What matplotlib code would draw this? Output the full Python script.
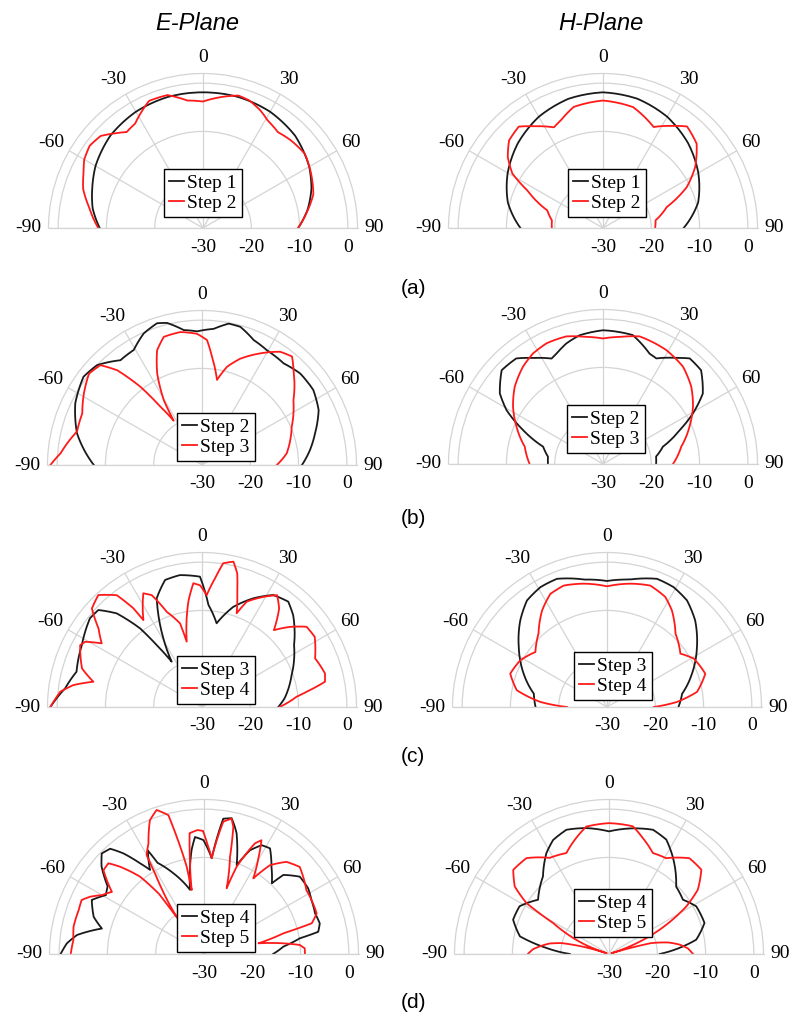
import numpy as np
import matplotlib.pyplot as plt
from matplotlib.transforms import offset_copy

plt.rcParams['font.family'] = ['Liberation Serif', 'DejaVu Serif']

# angles in degrees, gains in dB
theta_ticks = [-90, -60, -30, 0, 30, 60, 90]
r_ticks = [-30, -20, -10, 0]

# (a) E-plane
ea_s1_th = [-90, -80, -70, -60, -45, -30, -15, 0, 15, 30, 45, 60, 70, 80, 90]
ea_s1_db = [-8.6, -6.8, -5.6, -4.3, -2.9, -2.2, -1.9, -1.9, -1.9, -2.2, -3.0, -4.6, -6.1, -8.0, -10.3]
ea_s2_th = [-90, -80, -72, -65, -60, -54, -48, -43, -38.5, -33, -28, -23, -15, -7, 0, 8, 15, 20,
            26, 31, 38, 45, 54, 63, 73, 82, 90]
ea_s2_db = [-8.3, -6.1, -3.9, -2.7, -1.6, -1.0, -1.5, -3.2, -4.6, -4.2, -2.8, -1.4, -1.5, -3.4, -3.8,
            -2.6, -1.6, -1.9, -2.9, -4.0, -4.8, -4.3, -3.9, -4.9, -6.1, -8.4, -10.3]

# (a) H-plane
ha_s1_th = [-90, -75, -60, -45, -30, -15, 0, 15, 30, 45, 60, 75, 90]
ha_s1_db = [-12.9, -9.6, -7.2, -5.1, -3.4, -2.3, -1.9, -2.3, -3.4, -5.1, -7.2, -9.6, -13.3]
ha_s2_th = [-90, -81.5, -72.5, -63.6, -59, -53.3, -47, -39.7, -34.3, -26, -21.6, -13.6, 0, 14, 26.6,
            34, 39.6, 48, 56.5, 64, 71.8, 81.7, 90]
ha_s2_db = [-19.4, -19.3, -17.9, -12.5, -8.1, -5.4, -3.4, -2.7, -4.5, -6.8, -6.1, -4.2, -3.6, -4.2,
            -6.6, -4.5, -2.7, -3.9, -7.1, -10.7, -16.1, -19.0, -19.2]

# (b) E-plane
eb_s2_th = [-90, -75.8, -64, -53.3, -46.4, -37.9, -30.7, -23.9, -17.6, -13.8, -7.7, -2.1, 4.9, 10.7,
            15.5, 22.5, 29.5, 38.8, 47, 56, 64.8, 74.4, 82, 90]
eb_s2_db = [-7.6, -3.3, -0.8, 0.6, 0.0, -2.5, -2.3, -0.2, 0.8, 0.3, -1.8, -2.3, -1.7, -0.2, -0.3,
            -2.0, -2.7, -3.0, -2.2, -2.2, -3.3, -5.7, -7.4, -9.3]
eb_s3_th = [-90, -85.3, -75, -66.7, -58.8, -51, -45.5, -41.8, -38.2, -35.5, -32.6, -30.5, -26.1,
            -21.4, -16.6, -9.2, -2.2, 2.3, 5.3, 10, 14.3, 19.8, 27.6, 34.6, 39.7, 44, 54.7, 66.9,
            82.2, 90]
eb_s3_db = [1.4, -0.6, -3.2, -3.0, -1.4, 0.1, -0.5, -3.7, -9.4, -15.2, -19.1, -14.4, -8.9, -4.5,
            -2.3, -2.1, -2.8, -4.1, -7.5, -12.1, -9.0, -6.6, -3.9, -1.5, -0.8, -2.7, -6.8, -9.8,
            -12.3, -14.5]

# (b) H-plane
hb_s2_th = [-90, -82.4, -73.9, -67, -60.8, -55.6, -47.2, -39.4, -33.4, -26, -22.9, -16.9, -10.3, 0,
            13, 22.9, 26.8, 34.6, 39.4, 46.3, 54.8, 60.6, 66.1, 73.9, 82, 90]
hb_s2_db = [-18.6, -18.5, -17.1, -12.0, -7.1, -4.1, -1.4, -1.7, -3.7, -5.7, -5.2, -3.9, -2.9, -2.3,
            -2.6, -5.2, -5.5, -3.3, -1.7, -1.9, -4.7, -8.6, -12.6, -17.1, -18.9, -19.0]
hb_s3_th = [-90, -77.5, -66.7, -57.5, -48.8, -39.4, -32.3, -25, -16, -8, 0, 8, 16, 29, 39.4, 48.8,
            57.5, 66.7, 77.5, 90]
hb_s3_db = [-14.8, -13.4, -10.5, -7.9, -5.7, -3.9, -2.9, -2.4, -2.5, -3.4, -4.0, -3.4, -2.5, -3.0,
            -3.9, -5.7, -7.9, -10.5, -13.4, -15.5]

# (c) E-plane
ec_s3_th = [-90, -82.2, -74.3, -62.7, -51.6, -46.9, -42.3, -38.2, -36.2, -33.8, -29.4, -22.6, -16.2,
            -9.5, -0.9, 3.6, 9.9, 17.3, 25.3, 32.5, 39.3, 44.8, 56, 70.4, 84, 90]
ec_s3_db = [1.4, -1.4, -3.0, -2.0, -0.4, -0.6, -3.8, -9.3, -14.1, -18.7, -13.7, -5.6, -2.6, -2.3,
            -3.0, -8.8, -12.4, -8.3, -5.1, -2.5, -1.8, -3.2, -7.0, -10.3, -12.8, -14.2]
ec_s4_th = [-90, -83.8, -80.3, -76.9, -72.2, -63.1, -60.8, -57.6, -52.8, -48.2, -42.8, -37.3, -34.8,
            -34, -27.3, -24.2, -20.3, -14.7, -13.2, -7.4, -4, -0.9, 2.4, 5.8, 8.4, 12.2, 14.8, 17,
            20.3, 23, 29.1, 33.9, 38.1, 43.1, 47.6, 52.5, 58.1, 66.7, 74.7, 78.4, 81.7, 83.8, 90]
ec_s4_db = [1.4, -0.5, -3.0, -6.9, -3.9, -1.7, -2.3, -5.4, -3.1, 0.6, 1.6, -0.9, -5.1, -8.3, -3.5,
            -4.6, -9.0, -12.1, -16.1, -8.0, -4.3, -4.8, -6.8, -3.2, 0.1, 0.8, -1.4, -5.0, -9.3,
            -6.3, -3.9, -2.1, -4.1, -8.2, -5.4, -2.7, -2.5, -4.5, -3.6, -4.0, -8.1, -10.3, -13.9]

# (c) H-plane
hc_s3_th = [-90, -79.7, -68.2, -55.8, -45, -36.9, -29, -21.3, -10, 0, 10, 21.3, 29, 36.9, 45.5,
            56.3, 68.6, 80, 90]
hc_s3_db = [-15.2, -14.6, -11.4, -7.9, -4.6, -2.4, -1.6, -1.5, -3.2, -3.9, -3.2, -1.5, -1.6, -2.4,
            -4.4, -7.6, -11.1, -14.2, -15.2]
hc_s4_th = [-90, -85.7, -79.5, -71, -61.7, -52.5, -43, -33.9, -26.6, -19.6, -10.7, 0, 10.7, 19.6,
            27.9, 33.9, 43, 54, 60.9, 71.3, 80.5, 85.9, 90]
hc_s4_db = [-21.7, -16.2, -11.0, -8.8, -9.6, -11.3, -9.2, -5.9, -3.8, -3.3, -4.0, -5.0, -4.0, -3.3,
            -4.2, -5.9, -9.2, -11.2, -9.4, -8.5, -11.1, -15.5, -20.3]

# (d) E-plane
ed_s4_th = [-90, -85.6, -81.5, -76, -71.4, -64.3, -59, -54.9, -49.5, -45.5, -41.7, -38.7, -35.2,
            -32.7, -28.5, -27, -20.8, -12.3, -6.8, -4.4, -0.3, 4.6, 8.1, 11.5, 13.5, 15.1, 20.2,
            23.9, 27.9, 32, 37.8, 43.8, 45.1, 51.1, 57.8, 63.4, 69.9, 75.2, 79, 80.7, 84.7, 90]
ed_s4_db = [-0.3, -1.5, -3.4, -8.2, -5.9, -4.2, -6.3, -5.6, -2.1, -0.3, -0.8, -3.3, -7.0, -9.3,
            -5.6, -8.8, -12.1, -16.4, -8.3, -5.7, -6.4, -10.1, -1.7, -1.3, -2.8, -4.1, -10.4, -6.5,
            -4.5, -4.2, -7.2, -9.7, -6.8, -4.5, -4.5, -5.1, -5.5, -5.2, -5.9, -9.9, -13.5, -15.7]
ed_s5_th = [-90, -83.9, -78.2, -70.7, -66.2, -63.3, -60, -56, -50.2, -46.5, -43.9, -39.6, -36.8,
            -36.5, -33, -31.3, -30.1, -26.7, -22, -18.2, -14.4, -13.1, -11.2, -10.9, -8.5, -6.8, -3,
            -0.5, 2, 4.6, 8.3, 11.5, 13, 15, 19, 20.5, 24.7, 26.8, 29.6, 33.1, 36.6, 41.8, 47.7, 58,
            70.2, 74.1, 75.4, 78.9, 84.6, 86.8, 90]
ed_s5_db = [-2.4, -2.8, -2.4, -2.5, -2.3, -3.6, -5.6, -7.0, -2.9, -2.7, -4.9, -9.2, -14.5, -20.7,
            -14.0, -10.5, -6.3, -4.4, -0.1, 1.4, -0.3, -5.1, -11.6, -16.5, -10.3, -4.8, -4.3, -4.5,
            -7.5, -10.1, -2.3, -1.4, -3.0, -9.2, -15.6, -10.7, -4.8, -3.6, -7.2, -11.3, -7.1, -4.4,
            -3.2, -5.0, -5.2, -6.8, -13.0, -18.5, -10.1, -9.1, -9.1]

# (d) H-plane
hd_s4_th = [-90, -84.5, -78.8, -70.3, -61.9, -52.6, -40.4, -31.8, -26.1, -18.9, -10.2, 0, 10.8,
            19.5, 26.6, 33.2, 44.9, 53.7, 61.4, 72, 80.7, 90]
hd_s4_db = [-21.9, -17.0, -11.2, -8.9, -9.0, -11.5, -8.9, -5.4, -3.7, -2.8, -3.5, -4.6, -3.5, -2.7,
            -3.5, -5.9, -10.3, -11.0, -9.4, -9.2, -11.7, -19.5]
hd_s5_th = [-90, -86.5, -83.7, -80, -77, -74, -72, -69, -65, -61, -58.3, -54.4, -48.7, -40.7,
            -31.7, -22.9, -15.7, -10.1, 0, 10.6, 16.3, 23.5, 30.8, 40, 47.6, 54.1, 58.4, 64.3, 68,
            71, 73, 75.5, 79, 82.5, 86, 90]
hd_s5_db = [-13.2, -14.2, -15.6, -17.5, -20.0, -25.0, -29.5, -25.0, -21.0, -16.8, -9.9, -6.0, -3.6,
            -3.8, -6.6, -7.3, -5.0, -3.2, -2.9, -3.1, -5.0, -7.2, -6.9, -4.1, -4.1, -7.3, -11.2,
            -18.3, -23.0, -27.0, -29.5, -21.0, -17.5, -15.2, -13.6, -12.6]

W, H = 789, 1015
R = 154.5            # radius of each half-disk in pixels
GRID = '#d4d4d4'
RED = '#ff1a1a'
BLACK = '#1a1a1a'

fig = plt.figure(figsize=(W / 100, H / 100), dpi=100)


def half_polar(cx, cy):
    # the half-disk sits in the middle of a square box of side 2R
    ax = fig.add_axes([(cx - R) / W, (H - cy - 0.5 * R) / H, 2 * R / W, 2 * R / H],
                      projection='polar')
    ax.set_theta_zero_location('N')
    ax.set_theta_direction(-1)
    ax.set_thetamin(-90)
    ax.set_thetamax(90)
    ax.set_rlim(-30, 2)
    ax.set_xticks(np.deg2rad(theta_ticks), labels=[''] * len(theta_ticks))
    ax.set_yticks(r_ticks, labels=[''] * len(r_ticks))
    ax.tick_params(length=0)
    ax.grid(True, color=GRID, lw=0.9)
    for s in ax.spines.values():
        s.set_color(GRID)
        s.set_linewidth(0.9)
    for t in theta_ticks:
        # minus sign hangs outward, digits stay in place
        shift = offset_copy(ax.transData, fig=fig, x=-4 if t < 0 else 0, units='dots')
        ax.text(np.deg2rad(t), 5.4, str(t), transform=shift, ha='center', va='center',
                fontsize=14)
    below = offset_copy(ax.transData, fig=fig, y=-19, units='dots')
    for v in r_ticks:
        ax.text(np.pi / 2, v, str(v), transform=below, ha='center', va='center', fontsize=14)
    return ax


def draw(cx, cy, th1, db1, lab1, th2, db2, lab2, leg_x, leg_y):
    ax = half_polar(cx, cy)
    for th, db, col, lab in [(th1, db1, BLACK, lab1), (th2, db2, RED, lab2)]:
        ln, = ax.plot(np.deg2rad(th), db, color=col, lw=1.3, label=lab)
        # follow the polar grid between samples instead of straight chords
        ln.get_path()._interpolation_steps = 16
    leg = ax.legend(loc='lower left', bbox_to_anchor=(leg_x / W, 1 - leg_y / H),
                    bbox_transform=fig.transFigure, borderaxespad=0, fancybox=False,
                    edgecolor='black', framealpha=1, fontsize=14, handlelength=0.8,
                    handletextpad=0.15, borderpad=0.25, labelspacing=0.15)
    leg.get_frame().set_linewidth(1.0)
    return ax


draw(203, 228, ea_s1_th, ea_s1_db, 'Step 1', ea_s2_th, ea_s2_db, 'Step 2', 164, 217)
draw(603, 228, ha_s1_th, ha_s1_db, 'Step 1', ha_s2_th, ha_s2_db, 'Step 2', 568, 217)
draw(202, 465, eb_s2_th, eb_s2_db, 'Step 2', eb_s3_th, eb_s3_db, 'Step 3', 177, 461)
draw(603, 464, hb_s2_th, hb_s2_db, 'Step 2', hb_s3_th, hb_s3_db, 'Step 3', 567, 453)
draw(202, 707, ec_s3_th, ec_s3_db, 'Step 3', ec_s4_th, ec_s4_db, 'Step 4', 177, 704)
draw(607, 707, hc_s3_th, hc_s3_db, 'Step 3', hc_s4_th, hc_s4_db, 'Step 4', 574, 700)
draw(204, 954, ed_s4_th, ed_s4_db, 'Step 4', ed_s5_th, ed_s5_db, 'Step 5', 177, 952)
draw(609, 954, hd_s4_th, hd_s4_db, 'Step 4', hd_s5_th, hd_s5_db, 'Step 5', 574, 937)

for x, txt in [(197, 'E-Plane'), (601, 'H-Plane')]:
    fig.text(x / W, 1 - 23 / H, txt, ha='center', va='center', fontsize=17,
             family='Liberation Sans', style='italic')
for y, txt in [(288, '(a)'), (518, '(b)'), (757, '(c)'), (1003, '(d)')]:
    fig.text(413 / W, 1 - y / H, txt, ha='center', va='center', fontsize=15,
             family='Liberation Sans')

fig.savefig('out.png', dpi=100)
